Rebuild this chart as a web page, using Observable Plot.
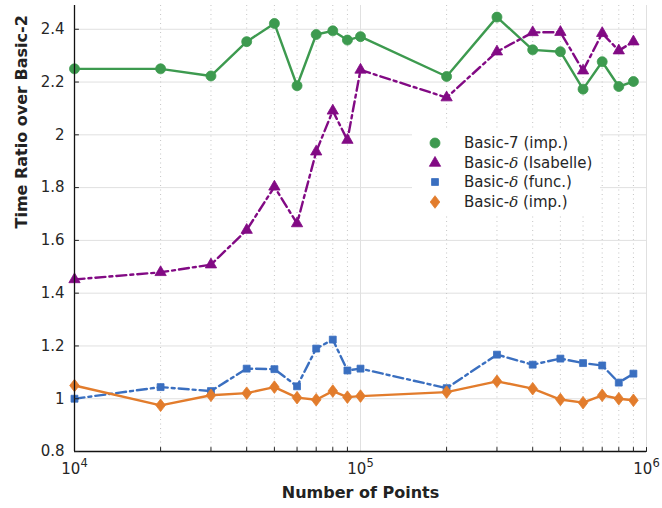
<!DOCTYPE html>
<html>
<head>
<meta charset="utf-8">
<script src="https://cdn.jsdelivr.net/npm/d3@7"></script>
<script src="https://cdn.jsdelivr.net/npm/@observablehq/plot@0.6"></script>
<style>
  body { margin: 0; background: #fff; }
  #wrap { position: relative; width: 662px; height: 508px; font-family: "DejaVu Sans", sans-serif; }
  #legend { position: absolute; left: 412px; top: 128px; width: 188px; height: 86px; background: #fff; }
  .lrow { position: absolute; left: 0; height: 20px; display: flex; align-items: center; font-size: 15px; color: #262626; }
  .lrow svg { width: 24px; height: 20px; margin-left: 11px; margin-right: 17px; }
</style>
</head>
<body>
<div id="wrap"><div id="legend"></div></div>
<script>
// ---- data ----
const points = [1e4, 2e4, 3e4, 4e4, 5e4, 6e4, 7e4, 8e4, 9e4, 1e5, 2e5, 3e5, 4e5, 5e5, 6e5, 7e5, 8e5, 9e5];
const basic7Imp   = [2.25, 2.25, 2.223, 2.353, 2.422, 2.186, 2.380, 2.394, 2.359, 2.372, 2.221, 2.446, 2.322, 2.315, 2.173, 2.277, 2.183, 2.202];
const deltaIsabelle = [1.452, 1.479, 1.508, 1.639, 1.803, 1.664, 1.936, 2.091, 1.980, 2.246, 2.141, 2.315, 2.388, 2.389, 2.243, 2.385, 2.319, 2.353];
const deltaFunc   = [1.000, 1.044, 1.029, 1.114, 1.112, 1.047, 1.190, 1.224, 1.107, 1.114, 1.040, 1.167, 1.129, 1.152, 1.135, 1.126, 1.061, 1.095];
const deltaImp    = [1.050, 0.975, 1.013, 1.021, 1.044, 1.004, 0.996, 1.029, 1.006, 1.010, 1.025, 1.066, 1.038, 0.997, 0.985, 1.013, 1.000, 0.994];
const seriesNames = ["Basic-7 (imp.)", "Basic-δ (Isabelle)", "Basic-δ (func.)", "Basic-δ (imp.)"];
const yTicks = [0.8, 1, 1.2, 1.4, 1.6, 1.8, 2, 2.2, 2.4];
const yTickLabels = ["0.8", "1", "1.2", "1.4", "1.6", "1.8", "2", "2.2", "2.4"];
const xMajor = [1e4, 1e5, 1e6];
const xMajorExponents = ["4", "5", "6"];
const xMinor = [2e4, 3e4, 4e4, 5e4, 6e4, 7e4, 8e4, 9e4, 2e5, 3e5, 4e5, 5e5, 6e5, 7e5, 8e5, 9e5];

// ---- styles ----
const colors = ["#3d9a4f", "#820a84", "#3a6fc0", "#e27c2c"];
const dashes = [null, "10,4,3,4", "10,4,3,4", null];
const thinDiamond = {
  draw(ctx, size) {
    const k = Math.sqrt(size / (Math.PI * 25));
    const a = 4.8 * k, b = 6.3 * k;
    ctx.moveTo(0, -b); ctx.lineTo(a, 0); ctx.lineTo(0, b); ctx.lineTo(-a, 0); ctx.closePath();
  }
};
const tickShape = {
  draw(ctx, l) { ctx.moveTo(0, 0); ctx.lineTo(0, -l); }
};
const symbols = [d3.symbolCircle, d3.symbolTriangle, d3.symbolSquare, thinDiamond];
const radii = [5, 4.2, 3.9, 5];

const allSeries = [basic7Imp, deltaIsabelle, deltaFunc, deltaImp];
const rows = allSeries.map((vals, i) => points.map((x, j) => ({x, y: vals[j], s: seriesNames[i]})));

const marks = [
  Plot.gridY(yTicks, {stroke: "#e0e0e0", strokeOpacity: 1, strokeWidth: 1}),
  Plot.gridX(xMajor, {stroke: "#e0e0e0", strokeOpacity: 1, strokeWidth: 1}),
  Plot.gridX(xMinor, {stroke: "#c4c4c4", strokeOpacity: 1, strokeWidth: 1, strokeDasharray: "1,3.5"}),
];
rows.forEach((r, i) => {
  marks.push(Plot.line(r, {x: "x", y: "y", stroke: colors[i], strokeWidth: 2.4, strokeDasharray: dashes[i]}));
  marks.push(Plot.dot(r, {x: "x", y: "y", fill: colors[i], stroke: colors[i], strokeWidth: 0.8, symbol: () => symbols[i], r: radii[i]}));
});
marks.push(
  Plot.ruleX([1e4], {stroke: "#111", strokeWidth: 1.3}),
  Plot.ruleY([0.8], {stroke: "#111", strokeWidth: 1.3}),
  Plot.vector(xMinor.concat([1e6]), {x: d => d, frameAnchor: "bottom", length: 4, rotate: 0, anchor: "start", shape: tickShape, stroke: "#222", strokeWidth: 1}),
  Plot.vector(yTicks, {y: d => d, frameAnchor: "left", length: 4, rotate: 90, anchor: "start", shape: tickShape, stroke: "#222", strokeWidth: 1}),
  Plot.text(yTicks, {y: d => d, text: (d, i) => yTickLabels[i], frameAnchor: "left", dx: -10, textAnchor: "end", fontSize: 15, fill: "#262626"}),
  Plot.text(xMajor, {x: d => d, text: (d, i) => "10^" + xMajorExponents[i], frameAnchor: "bottom", dy: 22, fontSize: 15, fill: "#262626"}),
  Plot.text(["Time Ratio over Basic-2"], {text: d => d, frameAnchor: "left", dx: -53, rotate: -90, fontSize: 16, fontWeight: "bold", fill: "#222"}),
  Plot.text(["Number of Points"], {text: d => d, frameAnchor: "bottom", dy: 46, fontSize: 16, fontWeight: "bold", fill: "#222"})
);

const chart = Plot.plot({
  width: 662,
  height: 508,
  marginLeft: 74,
  marginRight: 16,
  marginTop: 5,
  marginBottom: 57,
  style: {fontFamily: "DejaVu Sans", fontSize: "15px", color: "#222", background: "#fff"},
  x: {type: "log", domain: [1e4, 1e6], axis: null},
  y: {domain: [0.8, 2.49], axis: null},
  marks
});
const wrap = document.getElementById("wrap");
wrap.insertBefore(chart, wrap.firstChild);

// superscript exponents for the x tick labels
d3.select(chart).selectAll("text").each(function() {
  const t = this.textContent;
  if (/^10\^\d$/.test(t)) {
    const [base, exp] = t.split("^");
    const el = d3.select(this);
    el.text(null);
    el.append("tspan").text(base);
    el.append("tspan").attr("dy", "-7").attr("font-size", "11.5").text(exp);
  }
});

// legend
const legend = d3.select("#legend");
seriesNames.forEach((name, i) => {
  const row = legend.append("div").attr("class", "lrow").style("top", (5 + i * 19.7) + "px");
  const s = row.append("svg").attr("viewBox", "-12 -10 24 20");
  s.append("path").attr("d", d3.symbol().type(symbols[i]).size(Math.PI * radii[i] * radii[i])())
    .attr("fill", colors[i]).attr("stroke", colors[i]).attr("stroke-width", 0.8);
  const parts = name.split("δ");
  const span = row.append("span");
  span.append("span").text(parts[0]);
  if (parts.length > 1) {
    span.append("i").style("font-family", "DejaVu Serif").text("δ");
    span.append("span").text(parts[1]);
  }
});
</script>
</body>
</html>
